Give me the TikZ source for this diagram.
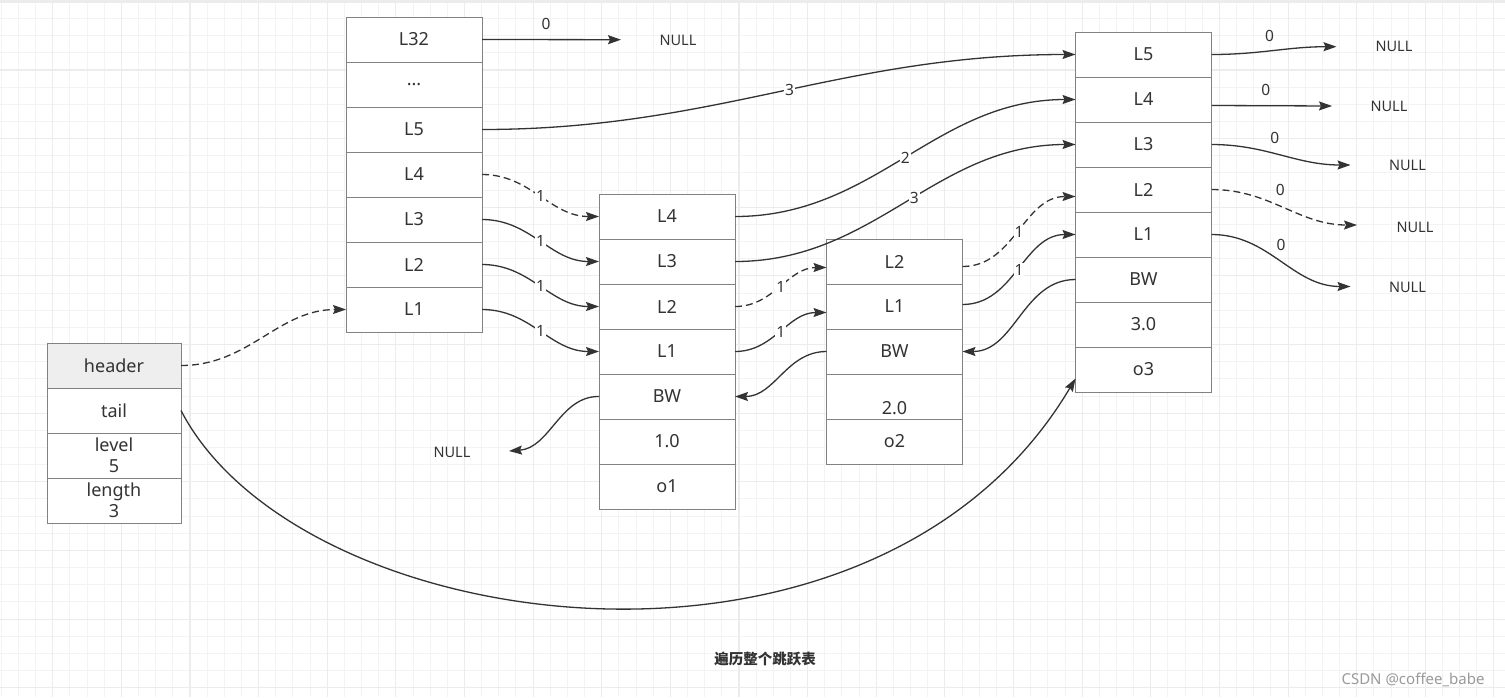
\documentclass[tikz,border=0pt]{standalone}
\usepackage{fontspec}
\setmainfont{Noto Sans}
\newfontfamily\cjkfont{Noto Sans CJK SC}
\usepackage{tikz}
\usetikzlibrary{positioning,arrows.meta}

\definecolor{boxline}{HTML}{828282}
\definecolor{edgeline}{HTML}{333333}
\definecolor{txt}{HTML}{333333}
\definecolor{gridminor}{HTML}{F3F3F3}
\definecolor{gridmajor}{HTML}{ECECEC}
\definecolor{headfill}{HTML}{EEEEEE}
\definecolor{markgray}{HTML}{9A9A9A}

\tikzset{
  cell/.style={draw=boxline, fill=white, line width=1pt, minimum width=136pt,
    minimum height=45pt, inner sep=0pt, outer sep=0pt, text=txt, align=center,
    font=\fontsize{18}{21}\selectfont},
  hcell/.style={cell, minimum width=134pt},
  link/.style={draw=edgeline, line width=1.3pt, ->},
  dlink/.style={link, dash pattern=on 7pt off 4pt},
  elabel/.style={fill=white, inner sep=1pt, text=txt, font=\fontsize{15.5}{16}\selectfont},
  zlabel/.style={elabel, fill=none, above=8pt},
  nulltxt/.style={text=txt, inner sep=0pt, font=\fontsize{14.5}{15}\selectfont}
}

\begin{document}
\begin{tikzpicture}[x=1pt, y=-1pt, >={Stealth[length=13pt,width=9pt,inset=2pt]}]
\useasboundingbox (0,0) rectangle (1505,697);
\fill[white] (0,0) rectangle (1505,697);
% grid
\foreach \i in {0,...,87} \draw[gridminor, line width=1pt] ({1.23+17.1575*\i},0) -- ++(0,697);
\foreach \j in {0,...,40} \draw[gridminor, line width=1pt] (0,{1.37+17.1575*\j}) -- ++(1505,0);
\foreach \i in {0,...,21} \draw[gridmajor, line width=1.1pt] ({52.7+68.63*\i},0) -- ++(0,697);
\foreach \j in {0,...,10} \draw[gridmajor, line width=1.1pt] (0,{1.37+68.63*\j}) -- ++(1505,0);
\fill[gridmajor] (0,0) rectangle (1505,3);

% header struct
\node[hcell, fill=headfill] (header) at (114,365.5) {header};
\node[hcell, below=0pt of header] (tail) {tail};
\node[hcell, below=0pt of tail] (level) {level\\5};
\node[hcell, below=0pt of level] (length) {length\\3};

% header levels
\node[cell] (aL32) at (414,39.5) {L32};
\node[cell, below=0pt of aL32] (aDots) {...};
\node[cell, below=0pt of aDots] (aL5) {L5};
\node[cell, below=0pt of aL5] (aL4) {L4};
\node[cell, below=0pt of aL4] (aL3) {L3};
\node[cell, below=0pt of aL3] (aL2) {L2};
\node[cell, below=0pt of aL2] (aL1) {L1};

% o1
\node[cell] (oneL4) at (667,216.5) {L4};
\node[cell, below=0pt of oneL4] (oneL3) {L3};
\node[cell, below=0pt of oneL3] (oneL2) {L2};
\node[cell, below=0pt of oneL2] (oneL1) {L1};
\node[cell, below=0pt of oneL1] (oneBW) {BW};
\node[cell, below=0pt of oneBW] (oneScore) {1.0};
\node[cell, below=0pt of oneScore] (oneObj) {o1};

% o2
\node[cell] (twoL2) at (894.5,261.5) {L2};
\node[cell, below=0pt of twoL2] (twoL1) {L1};
\node[cell, below=0pt of twoL1] (twoBW) {BW};
\node[cell, below=0pt of twoBW] (twoScore) {\strut\\2.0};
\node[cell, below=0pt of twoScore] (twoObj) {o2};

% o3
\node[cell] (threeL5) at (1143.5,54.5) {L5};
\node[cell, below=0pt of threeL5] (threeL4) {L4};
\node[cell, below=0pt of threeL4] (threeL3) {L3};
\node[cell, below=0pt of threeL3] (threeL2) {L2};
\node[cell, below=0pt of threeL2] (threeL1) {L1};
\node[cell, below=0pt of threeL1] (threeBW) {BW};
\node[cell, below=0pt of threeBW] (threeScore) {3.0};
\node[cell, below=0pt of threeScore] (threeObj) {o3};

% NULL ends
\node[nulltxt] (nullTop) at (678,40) {NULL};
\node[nulltxt] (nullBack) at (452,452) {NULL};
\node[nulltxt] (nullL5) at (1394,46.7) {NULL};
\node[nulltxt] (nullL4) at (1389,106) {NULL};
\node[nulltxt] (nullL3) at (1407.5,165) {NULL};
\node[nulltxt] (nullL2) at (1415,227) {NULL};
\node[nulltxt] (nullL1) at (1407.5,287) {NULL};
\coordinate (endTop) at (621,39.7);
\coordinate (endBack) at (509,451);
\coordinate (endL5) at (1336.5,46.7);
\coordinate (endL4) at (1332,106);
\coordinate (endL3) at (1350.5,165);
\coordinate (endL2) at (1357,225);
\coordinate (endL1) at (1350.5,286.5);

% forward pointers
\draw[dlink] (header.east) to[out=0,in=180] (aL1.west);
\draw[link] (aL32.east) -- node[zlabel, pos=.46]{0} (endTop);
\draw[link] (aL5.east) to[out=0,in=180] node[elabel, pos=.52]{3} (threeL5.west);
\draw[dlink] (aL4.east) to[out=0,in=180] node[elabel]{1} (oneL4.west);
\draw[link] (aL3.east) to[out=0,in=180] node[elabel]{1} (oneL3.west);
\draw[link] (aL2.east) to[out=0,in=180] node[elabel]{1} (oneL2.west);
\draw[link] (aL1.east) to[out=0,in=180] node[elabel]{1} (oneL1.west);
\draw[link] (oneL4.east) to[out=0,in=180] node[elabel]{2} (threeL4.west);
\draw[link] (oneL3.east) to[out=0,in=180] node[elabel, pos=.53]{3} (threeL3.west);
\draw[dlink] (oneL2.east) to[out=0,in=180] node[elabel]{1} ([yshift=-6pt]twoL2.west);
\draw[link] (oneL1.east) to[out=0,in=180] node[elabel]{1} ([yshift=-6pt]twoL1.west);
\draw[dlink] ([yshift=-5pt]twoL2.east) to[out=0,in=180] node[elabel]{1} ([yshift=-7pt]threeL2.west);
\draw[link] ([yshift=2pt]twoL1.east) to[out=0,in=180] node[elabel]{1} (threeL1.west);
\draw[link] (threeL5.east) to[out=0,in=180] node[zlabel, pos=.46]{0} (endL5);
\draw[link] ([yshift=-6pt]threeL4.east) -- node[zlabel, pos=.45]{0} (endL4);
\draw[link] (threeL3.east) to[out=0,in=180] node[zlabel, pos=.45]{0} (endL3);
\draw[dlink] (threeL2.east) to[out=0,in=180] node[zlabel, pos=.47]{0} (endL2);
\draw[link] (threeL1.east) to[out=0,in=180] node[zlabel, pos=.5]{0} (endL1);

% backward pointers
\draw[link] (threeBW.west) to[out=180,in=0] (twoBW.east);
\draw[link] (twoBW.west) to[out=180,in=0] (oneBW.east);
\draw[link] (oneBW.west) .. controls (560,396) and (550,448) .. (endBack);
\draw[link] (tail.east) .. controls (300,640) and (875,717) .. ([yshift=-9pt]threeObj.west);

\node[text=txt, font=\cjkfont\fontsize{14.5}{16}\selectfont\bfseries] (caption) at (765,659) {遍历整个跳跃表};
\node[text=markgray, font=\fontsize{15}{16}\selectfont] (mark) at (1413,680) {CSDN @coffee\_babe};
\end{tikzpicture}
\end{document}
